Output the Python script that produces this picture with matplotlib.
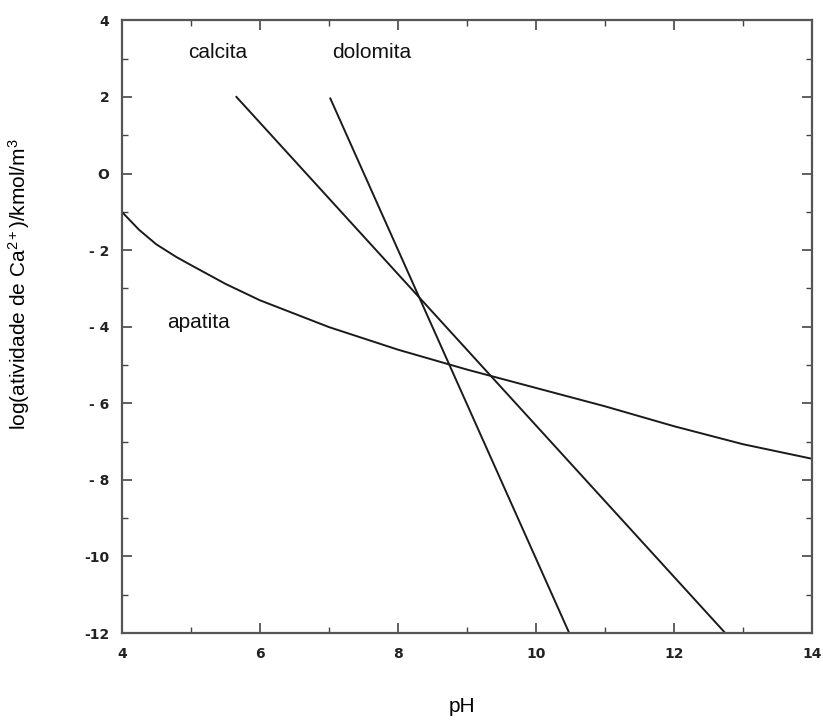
import numpy as np
import matplotlib
matplotlib.use("Agg")
import matplotlib.pyplot as plt

plt.rcParams['axes.unicode_minus'] = False
plt.rcParams['mathtext.fontset'] = 'custom'
plt.rcParams['mathtext.rm'] = 'Liberation Sans'
plt.rcParams['mathtext.it'] = 'Liberation Sans'

# curves
calcita_ph = [5.66, 12.74]
calcita_log = [2.0, -12.0]
dolomita_ph = [7.02, 10.48]
dolomita_log = [1.96, -12.0]
apatita_ph = [4, 4.25, 4.5, 4.79, 5, 5.5, 6, 7, 8, 9, 10, 11, 12, 13, 14]
apatita_log = [-1.0, -1.47, -1.85, -2.18, -2.39, -2.88, -3.31, -4.01, -4.6, -5.12,
               -5.6, -6.08, -6.6, -7.07, -7.45]

labels = ['calcita', 'dolomita', 'apatita']
label_pos = [(5.39, 3.16), (7.62, 3.16), (5.11, -3.88)]

xticks = [4, 6, 8, 10, 12, 14]
yticks = [4, 2, 0, -2, -4, -6, -8, -10, -12]
ytick_text = ['4', '2', 'O', '- 2', '- 4', '- 6', '- 8', '-10', '-12']

fig = plt.figure(figsize=(8.23, 7.26), dpi=100)
ax = fig.add_axes([0.148, 0.128, 0.839, 0.844])

for px, py in [(calcita_ph, calcita_log), (dolomita_ph, dolomita_log), (apatita_ph, apatita_log)]:
    ax.plot(px, py, color='#1a1a1a', linewidth=1.4)

for lab, (tx, ty) in zip(labels, label_pos):
    ax.text(tx, ty, lab, fontsize=15, family='Liberation Sans', ha='center', va='center', color='#111111')

ax.set_xlim(4, 14)
ax.set_ylim(-12, 4)
ax.set_xticks(xticks)
ax.set_xticks([5, 7, 9, 11, 13], minor=True)
ax.set_yticks(yticks)
ax.set_yticklabels(ytick_text)
ax.set_yticks([3, 1, -1, -3, -5, -7, -9, -11], minor=True)
ax.tick_params(which='both', direction='in', top=True, right=True, color='#444444',
               labelsize=10)
ax.tick_params(axis='x', pad=10)
ax.tick_params(axis='y', pad=9)
ax.tick_params(which='major', length=7, width=1.2)
ax.tick_params(which='minor', length=4, width=1.0)
for t in ax.get_xticklabels() + ax.get_yticklabels():
    t.set_fontweight('bold')
    t.set_color('#222222')

for s in ax.spines.values():
    s.set_color('#555555')
    s.set_linewidth(1.6)

ax.set_xlabel('pH', fontsize=15, family='Liberation Sans')
ax.xaxis.set_label_coords(0.493, -0.104)
ax.set_ylabel('log(atividade de Ca$^{2+}$)/kmol/m$^3$', fontsize=15, family='Liberation Sans')
ax.yaxis.set_label_coords(-0.13, 0.57)

fig.savefig('out.png', dpi=100)
